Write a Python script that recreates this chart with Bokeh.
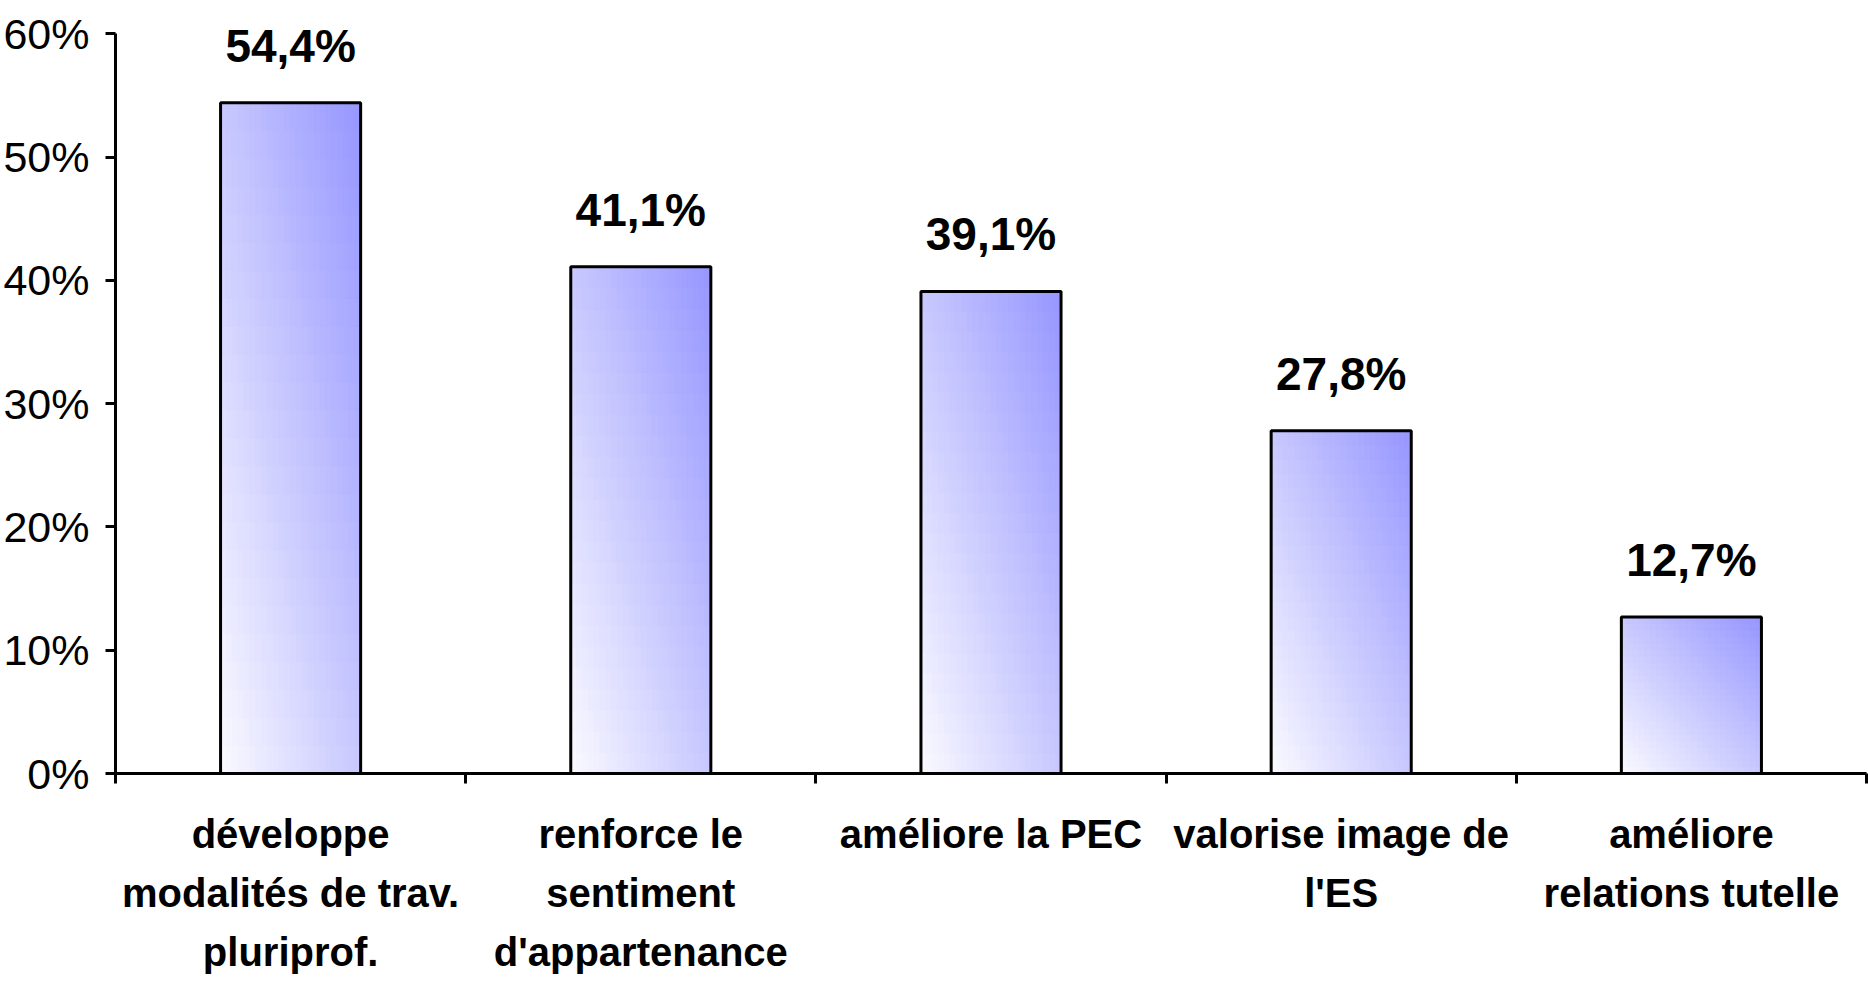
from bokeh.plotting import figure
from bokeh.models import FixedTicker, NumeralTickFormatter, ColumnDataSource, LabelSet
from bokeh.embed import file_html
from bokeh.resources import INLINE
from bokeh.core.properties import value

# ---- data ----
categories = [
    "développe\nmodalités de trav.\npluriprof.",
    "renforce le\nsentiment\nd'appartenance",
    "améliore la PEC",
    "valorise image de\nl'ES",
    "améliore\nrelations tutelle",
]
values = [0.544, 0.411, 0.391, 0.278, 0.127]
value_labels = ["54,4%", "41,1%", "39,1%", "27,8%", "12,7%"]
y_ticks = [0.0, 0.1, 0.2, 0.3, 0.4, 0.5, 0.6]

FONT = "Liberation Sans"
BAR_W = 0.4

centers = [i + 0.5 for i in range(len(categories))]

p = figure(width=1868, height=985, x_range=(0, len(categories)), y_range=(0, 0.61),
           output_backend="svg", toolbar_location=None,
           min_border_left=114, min_border_right=2, min_border_top=21, min_border_bottom=212)
p.outline_line_color = None
p.xgrid.visible = False
p.ygrid.visible = False
p.background_fill_color = "white"
p.border_fill_color = "white"

# ---- gradient fill for bars (diagonal: light bottom-left -> blue top-right) ----
nx, ny = 24, 24
light = (250, 250, 255)
dark = (150, 150, 255)
L, R, B, T, C = [], [], [], [], []
for xc, v in zip(centers, values):
    x0 = xc - BAR_W / 2
    for a in range(nx):
        for b in range(ny):
            t = ((a + 0.5) / nx + (b + 0.5) / ny) / 2
            col = tuple(int(round(light[k] + (dark[k] - light[k]) * t)) for k in range(3))
            L.append(x0 + a * BAR_W / nx)
            R.append(x0 + (a + 1) * BAR_W / nx)
            B.append(v * b / ny)
            T.append(v * (b + 1) / ny)
            C.append("#%02x%02x%02x" % col)
grad = ColumnDataSource(dict(left=L, right=R, bottom=B, top=T, color=C))
p.quad(left="left", right="right", bottom="bottom", top="top", source=grad,
       fill_color="color", line_color="color", line_width=1)

src = ColumnDataSource(dict(x=centers, top=values, lab=value_labels))
p.vbar(x="x", top="top", width=BAR_W, source=src, fill_color=None,
       line_color="black", line_width=3)

labels = LabelSet(x="x", y="top", text="lab", source=src, y_offset=41,
                  text_align="center", text_baseline="alphabetic",
                  text_font=value(FONT), text_font_style="bold",
                  text_font_size="46px", text_color="black")
p.add_layout(labels)

# ---- y axis ----
ya = p.yaxis[0]
ya.ticker = FixedTicker(ticks=y_ticks)
ya.bounds = (0, 0.6)
ya.formatter = NumeralTickFormatter(format="0%")
ya.major_label_text_font = FONT
ya.major_label_text_font_size = "43px"
ya.major_label_text_color = "black"
ya.axis_line_width = 3
ya.axis_line_color = "black"
ya.major_tick_out = 10
ya.major_tick_in = 0
ya.major_tick_line_width = 3
ya.minor_tick_out = 0
ya.minor_tick_in = 0
ya.major_label_standoff = 16

# ---- x axis: labels at category centres, ticks at category boundaries ----
xa = p.xaxis[0]
xa.ticker = FixedTicker(ticks=centers, minor_ticks=list(range(len(categories) + 1)))
xa.major_label_overrides = {c: lab for c, lab in zip(centers, categories)}
xa.major_tick_out = 0
xa.major_tick_in = 0
xa.minor_tick_out = 10
xa.minor_tick_in = 0
xa.minor_tick_line_width = 3
xa.axis_line_width = 3
xa.axis_line_color = "black"
xa.major_label_text_font = FONT
xa.major_label_text_font_style = "bold"
xa.major_label_text_font_size = "40px"
xa.major_label_text_line_height = 1.35
xa.major_label_text_color = "black"
xa.major_label_standoff = 28

open("out.html", "w").write(file_html(p, INLINE))
